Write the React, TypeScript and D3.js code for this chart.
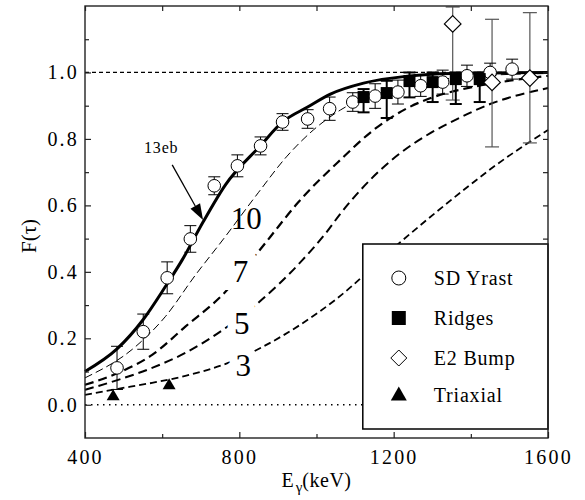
import React, { useEffect, useRef } from 'react';
import * as d3 from 'd3';

// measured points: [E (keV), F, error]
const sdYrast = [
  [483, 0.111, 0.065], [551, 0.22, 0.053], [613, 0.382, 0.048], [673, 0.499, 0.04],
  [735, 0.659, 0.027], [795, 0.719, 0.033], [855, 0.779, 0.027], [912, 0.851, 0.025],
  [977, 0.86, 0.028], [1034, 0.891, 0.035], [1094, 0.911, 0.028], [1152, 0.929, 0.037],
  [1211, 0.941, 0.036], [1270, 0.96, 0.032], [1327, 0.971, 0.036], [1390, 0.99, 0.032],
  [1450, 1.0, 0.028], [1507, 1.01, 0.03],
];
// [E, F, low, high]
const ridges = [
  [1122, 0.926, 0.88, 0.95], [1182, 0.938, 0.863, 0.975], [1241, 0.974, 0.925, 1.0],
  [1301, 0.971, 0.911, 1.0], [1361, 0.98, 0.905, 1.0], [1423, 0.98, 0.911, 1.0],
];
const e2Bump = [
  [1353, 1.146, 0.917, 1.197], [1455, 0.97, 0.776, 1.16], [1553, 0.983, 0.788, 1.18],
];
const triaxial = [[473, 0.027], [618, 0.06]];

// model curves
const curve13eb = [
  [400, 0.1], [483, 0.168], [550, 0.255], [608, 0.355], [652, 0.436], [706, 0.55],
  [764, 0.662], [855, 0.78], [912, 0.851], [977, 0.896], [1036, 0.935], [1122, 0.968],
  [1236, 0.989], [1350, 0.997], [1600, 1.0],
];
const curve10 = [
  [400, 0.081], [530, 0.174], [608, 0.265], [686, 0.39], [757, 0.496], [849, 0.638],
  [922, 0.746], [992, 0.827], [1062, 0.887], [1150, 0.935], [1250, 0.965], [1400, 0.988],
  [1600, 0.997],
];
const curve7 = [
  [400, 0.06], [486, 0.096], [574, 0.15], [660, 0.235], [764, 0.34], [849, 0.46],
  [880, 0.505], [951, 0.607], [1062, 0.737], [1148, 0.827], [1236, 0.893], [1296, 0.923],
  [1400, 0.955], [1500, 0.975], [1600, 0.99],
];
const curve5 = [
  [400, 0.045], [486, 0.075], [574, 0.111], [660, 0.156], [758, 0.226], [842, 0.3],
  [964, 0.436], [1023, 0.515], [1062, 0.575], [1166, 0.707], [1218, 0.758], [1296, 0.818],
  [1348, 0.85], [1450, 0.905], [1600, 0.953],
];
const curve3 = [
  [400, 0.03], [486, 0.048], [574, 0.066], [660, 0.087], [771, 0.126], [860, 0.174],
  [1049, 0.316], [1218, 0.49], [1392, 0.656], [1452, 0.71], [1600, 0.827],
];

const xMajor = [400, 800, 1200, 1600];
const xMinor = [600, 1000, 1400];
const yMajor = [0, 0.2, 0.4, 0.6, 0.8, 1.0];
const yMinor = [0.1, 0.3, 0.5, 0.7, 0.9, 1.1];

// curve labels: [text, E, F(baseline)]
const curveLabels = [['10', 818, 0.53], ['7', 803, 0.37], ['5', 806, 0.213], ['3', 810, 0.087]];
const legendItems = ['SD Yrast', 'Ridges', 'E2 Bump', 'Triaxial'];

const width = 585;
const height = 500;
const margin = { top: 6, right: 37, bottom: 62, left: 85 };
const serif = "'Liberation Serif', 'DejaVu Serif', serif";

const App = () => {
  const ref = useRef(null);

  useEffect(() => {
    const svg = d3.select(ref.current);
    svg.selectAll('*').remove();

    const x = d3.scaleLinear().domain([400, 1600]).range([margin.left, width - margin.right]);
    const y = d3.scaleLinear().domain([-0.1, 1.2]).range([height - margin.bottom, margin.top]);
    const frame = '#222';

    // reference lines
    svg.append('line')
      .attr('x1', x(400)).attr('x2', x(1600)).attr('y1', y(1)).attr('y2', y(1))
      .attr('stroke', '#000').attr('stroke-width', 1.3).attr('stroke-dasharray', '4,3');
    svg.append('line')
      .attr('x1', x(400)).attr('x2', x(1600)).attr('y1', y(0)).attr('y2', y(0))
      .attr('stroke', '#000').attr('stroke-width', 1.5).attr('stroke-dasharray', '1.5,4.5');

    const line = d3.line().x(d => x(d[0])).y(d => y(d[1])).curve(d3.curveMonotoneX);
    const curves = [
      { data: curve3, w: 1.8, dash: '7,4' },
      { data: curve5, w: 2, dash: '9,5' },
      { data: curve7, w: 2.2, dash: '9,5' },
      { data: curve10, w: 1, dash: '8,4' },
      { data: curve13eb, w: 3, dash: null },
    ];
    curves.forEach(c => {
      svg.append('path')
        .attr('d', line(c.data))
        .attr('fill', 'none')
        .attr('stroke', '#000')
        .attr('stroke-width', c.w)
        .attr('stroke-dasharray', c.dash);
    });

    // curve labels with white halo to cut the lines
    curveLabels.forEach(([t, e, f]) => {
      svg.append('text')
        .attr('x', x(e)).attr('y', y(f))
        .attr('text-anchor', 'middle')
        .style('font-family', serif).style('font-size', '31px')
        .attr('stroke', '#fff').attr('stroke-width', t === '10' ? 0 : 16)
        .attr('paint-order', 'stroke')
        .attr('fill', '#000')
        .text(t);
    });

    // 13eb arrow
    const ax0 = x(626), ay0 = y(0.722), ax1 = x(706), ay1 = y(0.556);
    const ang = Math.atan2(ay1 - ay0, ax1 - ax0);
    const hl = 16, hw = 5.5;
    const bx = ax1 - hl * Math.cos(ang), by = ay1 - hl * Math.sin(ang);
    svg.append('line')
      .attr('x1', ax0).attr('y1', ay0).attr('x2', bx).attr('y2', by)
      .attr('stroke', '#000').attr('stroke-width', 1.3);
    svg.append('polygon')
      .attr('points', [
        [ax1, ay1],
        [bx + hw * Math.sin(ang), by - hw * Math.cos(ang)],
        [bx - hw * Math.sin(ang), by + hw * Math.cos(ang)],
      ].map(p => p.join(',')).join(' '))
      .attr('fill', '#000');
    svg.append('text')
      .attr('x', x(553)).attr('y', y(0.758))
      .style('font-family', serif).style('font-size', '16px').style('letter-spacing', '0.8px')
      .text('13eb');

    // error bars
    const errBar = (cx, lo, hi, color, w, cap) => {
      const g = svg.append('g').attr('stroke', color).attr('stroke-width', w);
      g.append('line').attr('x1', x(cx)).attr('x2', x(cx)).attr('y1', y(lo)).attr('y2', y(hi));
      g.append('line').attr('x1', x(cx) - cap).attr('x2', x(cx) + cap).attr('y1', y(lo)).attr('y2', y(lo));
      g.append('line').attr('x1', x(cx) - cap).attr('x2', x(cx) + cap).attr('y1', y(hi)).attr('y2', y(hi));
    };
    e2Bump.forEach(d => errBar(d[0], d[2], d[3], '#555', 1.2, 7));
    sdYrast.forEach(d => errBar(d[0], d[1] - d[2], d[1] + d[2], '#000', 1, 6));
    ridges.forEach(d => errBar(d[0], d[2], d[3], '#000', 2, 6));

    // markers
    const diamondPath = (r) => `M0,${-r}L${r},0L0,${r}L${-r},0Z`;
    const triPath = (w, h) => `M0,${-h * 0.6}L${w / 2},${h * 0.4}L${-w / 2},${h * 0.4}Z`;

    svg.append('g').selectAll('circle').data(sdYrast).enter().append('circle')
      .attr('cx', d => x(d[0])).attr('cy', d => y(d[1])).attr('r', 6.3)
      .attr('fill', '#fff').attr('stroke', '#000').attr('stroke-width', 1);
    svg.append('g').selectAll('rect').data(ridges).enter().append('rect')
      .attr('x', d => x(d[0]) - 6).attr('y', d => y(d[1]) - 6)
      .attr('width', 12).attr('height', 12).attr('fill', '#000');
    svg.append('g').selectAll('path').data(e2Bump).enter().append('path')
      .attr('transform', d => `translate(${x(d[0])},${y(d[1])})`)
      .attr('d', diamondPath(8.3))
      .attr('fill', '#fff').attr('stroke', '#000').attr('stroke-width', 1.2);
    svg.append('g').selectAll('path').data(triaxial).enter().append('path')
      .attr('transform', d => `translate(${x(d[0])},${y(d[1])})`)
      .attr('d', triPath(13, 11)).attr('fill', '#000');

    // axes
    const tickStyle = (g) => {
      g.select('.domain').remove();
      g.attr('font-family', null).attr('font-size', null);
      g.selectAll('line').attr('stroke', frame).attr('stroke-width', 1.2);
      g.selectAll('text')
        .style('font-family', serif).style('font-size', '20px')
        .style('letter-spacing', '2.2px').attr('fill', '#000');
    };
    const bottom = height - margin.bottom;
    svg.append('g').attr('transform', `translate(0,${bottom})`)
      .call(d3.axisBottom(x).tickValues(xMajor).tickSizeInner(-6).tickSizeOuter(0).tickPadding(12).tickFormat(d3.format('d')))
      .call(tickStyle);
    svg.append('g').attr('transform', `translate(0,${bottom})`)
      .call(d3.axisBottom(x).tickValues(xMinor).tickSizeInner(-4).tickSizeOuter(0).tickFormat(() => ''))
      .call(tickStyle);
    svg.append('g').attr('transform', `translate(0,${margin.top})`)
      .call(d3.axisTop(x).tickValues(xMajor.concat(xMinor)).tickSizeInner(-5).tickSizeOuter(0).tickFormat(() => ''))
      .call(tickStyle);
    svg.append('g').attr('transform', `translate(${margin.left},0)`)
      .call(d3.axisLeft(y).tickValues(yMajor).tickSizeInner(-6).tickSizeOuter(0).tickPadding(6).tickFormat(d3.format('.1f')))
      .call(tickStyle);
    svg.append('g').attr('transform', `translate(${margin.left},0)`)
      .call(d3.axisLeft(y).tickValues(yMinor).tickSizeInner(-4).tickSizeOuter(0).tickFormat(() => ''))
      .call(tickStyle);
    svg.append('g').attr('transform', `translate(${width - margin.right},0)`)
      .call(d3.axisRight(y).tickValues(yMajor.concat(yMinor)).tickSizeInner(-5).tickSizeOuter(0).tickFormat(() => ''))
      .call(tickStyle);

    // legend
    const lx = x(1120), ly = 244, lw = width - margin.right - lx, lh = 185;
    const leg = svg.append('g');
    leg.append('rect')
      .attr('x', lx).attr('y', ly).attr('width', lw).attr('height', lh)
      .attr('fill', '#fff').attr('stroke', '#000').attr('stroke-width', 1.5);
    const rows = [34, 74, 114, 151];
    const sx = lx + 36;
    leg.append('circle').attr('cx', sx).attr('cy', ly + rows[0]).attr('r', 7)
      .attr('fill', '#fff').attr('stroke', '#000').attr('stroke-width', 1);
    leg.append('rect').attr('x', sx - 7).attr('y', ly + rows[1] - 7).attr('width', 14).attr('height', 14).attr('fill', '#000');
    leg.append('path').attr('transform', `translate(${sx},${ly + rows[2]})`).attr('d', diamondPath(8))
      .attr('fill', '#fff').attr('stroke', '#000').attr('stroke-width', 1);
    leg.append('path').attr('transform', `translate(${sx},${ly + rows[3]})`).attr('d', triPath(16, 14)).attr('fill', '#000');
    legendItems.forEach((t, i) => {
      leg.append('text')
        .attr('x', lx + 71).attr('y', ly + rows[i] + 7)
        .style('font-family', serif).style('font-size', '20px').style('letter-spacing', '0.8px')
        .text(t);
    });

    // frame
    svg.append('rect')
      .attr('x', margin.left).attr('y', margin.top)
      .attr('width', width - margin.left - margin.right)
      .attr('height', height - margin.top - margin.bottom)
      .attr('fill', 'none').attr('stroke', frame).attr('stroke-width', 1.4);

    // axis titles
    const xt = svg.append('text')
      .attr('x', (margin.left + width - margin.right) / 2).attr('y', 487)
      .attr('text-anchor', 'middle')
      .style('font-family', serif).style('font-size', '20px');
    xt.append('tspan').text('E');
    xt.append('tspan').attr('dy', 5).attr('dx', 2).style('font-size', '15px').text('γ');
    xt.append('tspan').attr('dy', -5).style('letter-spacing', '0.5px').text('(keV)');

    svg.append('text')
      .attr('transform', `translate(36,236) rotate(-90)`)
      .attr('text-anchor', 'middle')
      .style('font-family', serif).style('font-size', '21px')
      .text('F(τ)');
  }, []);

  return (
    <svg
      ref={ref}
      width={width}
      height={height}
      style={{ position: 'absolute', left: 0, top: 0, background: '#fff', fontFamily: serif }}
    />
  );
};

export default App;
